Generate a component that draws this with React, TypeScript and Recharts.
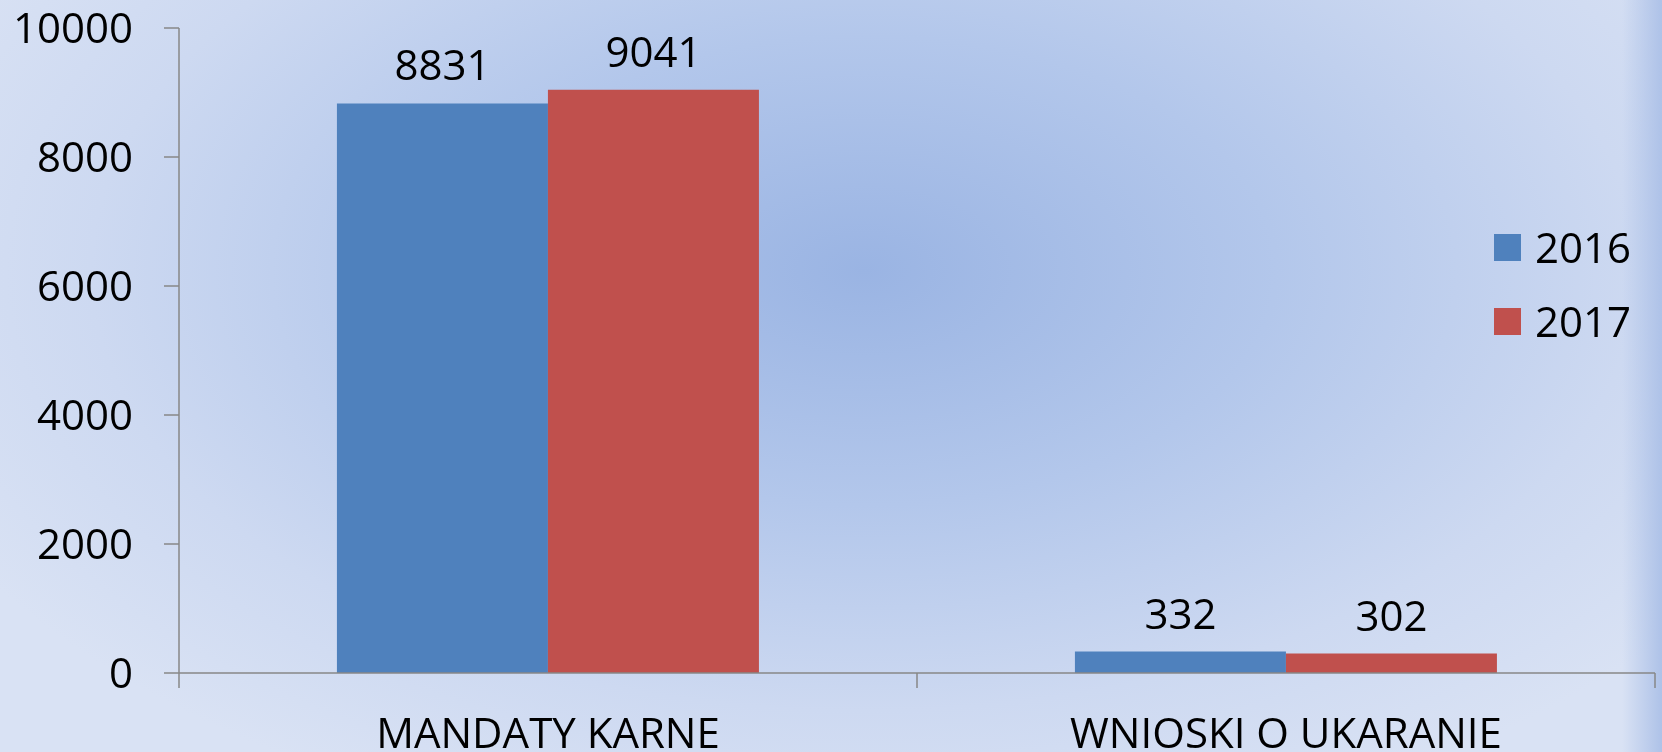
import { BarChart, Bar, XAxis, YAxis, Legend, LabelList } from 'recharts'

const categories = ['MANDATY KARNE', 'WNIOSKI O UKARANIE']
const values2016 = [8831, 332]
const values2017 = [9041, 302]
const yTicks = [0, 2000, 4000, 6000, 8000, 10000]

const data = categories.map((name, i) => ({
  name,
  y2016: values2016[i],
  y2017: values2017[i],
}))

const FONT = '"Open Sans", "Noto Sans", sans-serif'
const AXIS_COLOR = '#878787'
const BLUE = '#4F81BD'
const RED = '#C0504D'
const HALF_BAND = 369

function CategoryTick(props: any) {
  const { x, y, payload, index } = props
  const half = payload?.offset ?? HALF_BAND
  const axisY = y - 45
  return (
    <g>
      <line x1={x - half} x2={x - half} y1={axisY} y2={axisY + 15} stroke={AXIS_COLOR} strokeWidth={1.5} />
      {index === categories.length - 1 && (
        <line x1={x + half} x2={x + half} y1={axisY} y2={axisY + 15} stroke={AXIS_COLOR} strokeWidth={1.5} />
      )}
      <text x={x} y={y} dy="0.71em" textAnchor="middle" fontSize={42} fontFamily={FONT} fill="#000">
        {payload.value}
      </text>
    </g>
  )
}

function LegendBox() {
  const items = [
    { label: '2016', color: BLUE },
    { label: '2017', color: RED },
  ]
  return (
    <div>
      {items.map((it) => (
        <div key={it.label} style={{ height: 74, display: 'flex', alignItems: 'center' }}>
          <div style={{ width: 27, height: 27, background: it.color, marginRight: 14 }} />
          <span style={{ fontSize: 42, fontFamily: FONT, color: '#000', lineHeight: '42px' }}>{it.label}</span>
        </div>
      ))}
    </div>
  )
}

export default function App() {
  return (
    <div
      style={{
        position: 'fixed',
        left: 0,
        top: 0,
        width: 1662,
        height: 752,
        overflow: 'hidden',
        background:
          'linear-gradient(to right, rgba(176,196,232,0) 97.6%, #aec2e8 100%), radial-gradient(ellipse 62% 78% at 52% 36%, #9ab4e3 0%, #b3c7eb 40%, #cdd9f1 75%, #d9e2f4 100%)',
      }}
    >
      <BarChart
        width={1662}
        height={752}
        data={data}
        margin={{ top: 28, right: 7, left: 0, bottom: 0 }}
        barCategoryGap="21.4%"
        barGap={0}
      >
        <XAxis
          dataKey="name"
          height={79}
          axisLine={{ stroke: AXIS_COLOR, strokeWidth: 1.5 }}
          tickLine={false}
          tickSize={15}
          tickMargin={30}
          tick={<CategoryTick />}
          interval={0}
        />
        <YAxis
          width={179}
          domain={[0, 10000]}
          ticks={yTicks}
          axisLine={{ stroke: AXIS_COLOR, strokeWidth: 1.5 }}
          tickLine={{ stroke: AXIS_COLOR, strokeWidth: 1.5 }}
          tickSize={15}
          tickMargin={31}
          tick={{ fontSize: 42, fontFamily: FONT, fill: '#000' }}
        />
        <Legend
          layout="vertical"
          align="center"
          verticalAlign="middle"
          content={<LegendBox />}
          wrapperStyle={{ top: 210, left: 1494, width: 160 }}
        />
        <Bar dataKey="y2016" name="2016" fill={BLUE} isAnimationActive={false}>
          <LabelList dataKey="y2016" position="top" offset={23} fontSize={42} fontFamily={FONT} fill="#000" />
        </Bar>
        <Bar dataKey="y2017" name="2017" fill={RED} isAnimationActive={false}>
          <LabelList dataKey="y2017" position="top" offset={23} fontSize={42} fontFamily={FONT} fill="#000" />
        </Bar>
      </BarChart>
    </div>
  )
}
